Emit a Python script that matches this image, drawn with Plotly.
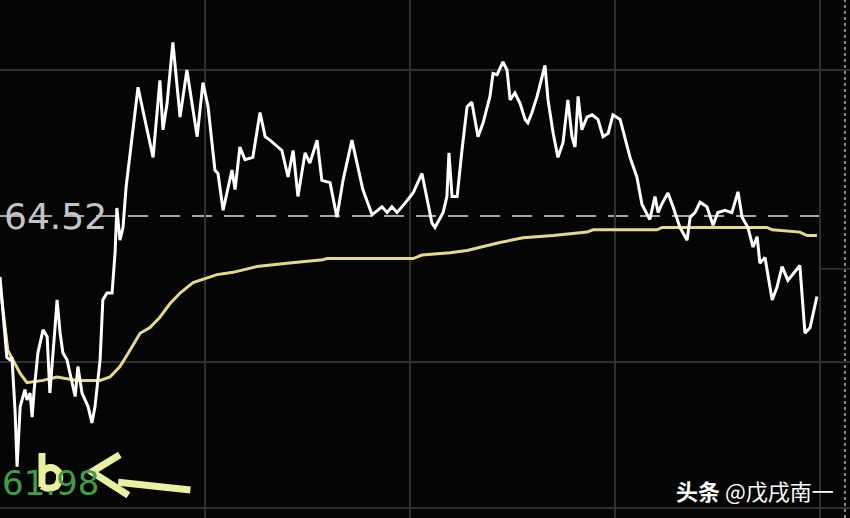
import plotly.graph_objects as go

# Intraday minutes and prices
price_minutes = [0, 2.0, 2.9, 3.5, 4.4, 5.0, 5.9, 7.3, 7.9, 8.8, 9.4, 10.0, 11.1, 12.6, 13.8, 14.6,
                 16.1, 16.7, 17.6, 18.4, 19.6, 21.1, 22.0, 22.8, 24.0, 24.9, 25.8, 26.9, 27.8, 29.3,
                 30.1, 31.3, 32.8, 33.7, 34.2, 35.1, 36.0, 36.9, 38.6, 40.4, 42.4, 44.8, 46.8, 47.7,
                 48.9, 50.6, 52.7, 54.7, 57.7, 59.4, 60.9, 62.9, 63.8, 65.3, 67.9, 68.8, 70.2, 71.7,
                 74.0, 76.1, 77.6, 79.0, 82.5, 84.3, 85.8, 87.2, 89.3, 90.7, 92.8, 94.2, 96.6, 98.6,
                 100.4, 103.0, 106.2, 108.9, 111.8, 113.3, 114.7, 116.2, 118.5, 120.9, 123.5, 125.0,
                 126.4, 127.3, 129.7, 130.8, 131.4, 132.3, 133.8, 135.2, 136.7, 138.1, 139.9, 141.4,
                 143.4, 144.3, 145.5, 147.2, 148.4, 149.3, 150.7, 152.2, 153.7, 154.5, 155.7, 157.2,
                 159.5, 160.4, 161.9, 163.3, 164.8, 166.2, 167.4, 168.3, 169.2, 170.3, 171.8, 173.3,
                 175.0, 176.5, 178.0, 179.4, 181.5, 184.4, 186.4, 187.9, 190.2, 191.7, 192.6, 193.8,
                 195.5, 197.0, 199.0, 201.1, 202.0, 203.4, 204.9, 206.9, 208.7, 210.1, 212.2, 214.2,
                 216.0, 217.2, 218.9, 220.4, 221.6, 222.4, 223.9, 226.0, 227.4, 228.9, 230.6, 234.1,
                 235.6, 237.1, 239.1]
price_values = [63.99, 63.29, 63.27, 63.29, 62.83, 62.34, 62.86, 63.01, 62.92, 62.98, 62.77, 63.01,
                63.33, 63.53, 63.47, 62.98, 63.55, 63.79, 63.50, 63.33, 63.27, 63.07, 62.95, 63.21,
                62.98, 62.92, 62.86, 62.72, 62.86, 63.27, 63.79, 63.85, 63.85, 64.21, 64.59, 64.31,
                64.42, 64.77, 65.18, 65.64, 65.36, 65.03, 65.70, 65.27, 65.50, 66.03, 65.38, 65.79,
                65.21, 65.68, 65.47, 64.92, 64.89, 64.57, 64.92, 64.75, 65.12, 65.01, 65.03, 65.42,
                65.21, 65.18, 65.09, 64.86, 65.09, 64.69, 65.07, 64.98, 65.18, 64.83, 64.81, 64.51,
                64.83, 65.18, 64.75, 64.53, 64.60, 64.55, 64.60, 64.55, 64.63, 64.72, 64.89, 64.66,
                64.46, 64.42, 64.55, 64.69, 65.07, 64.69, 64.69, 65.09, 65.47, 65.51, 65.21, 65.33,
                65.56, 65.76, 65.75, 65.86, 65.79, 65.53, 65.59, 65.50, 65.36, 65.33, 65.42, 65.56,
                65.83, 65.53, 65.24, 65.03, 65.16, 65.53, 65.21, 65.12, 65.56, 65.27, 65.38, 65.40,
                65.36, 65.21, 65.24, 65.40, 65.36, 65.03, 64.86, 64.62, 64.49, 64.69, 64.55, 64.63,
                64.72, 64.60, 64.42, 64.31, 64.51, 64.55, 64.64, 64.60, 64.44, 64.55, 64.57, 64.55,
                64.73, 64.51, 64.42, 64.25, 64.34, 64.11, 64.16, 63.79, 63.90, 64.08, 63.96, 64.09,
                63.50, 63.55, 63.82]

avg_minutes = [0, 2.3, 5.9, 7.9, 12.6, 16.7, 22.5, 29.3, 32.2, 35.1, 38.0, 41.0, 43.9, 46.8, 49.8,
               52.7, 56.5, 58.5, 63.5, 68.2, 75.2, 84.0, 94.5, 95.7, 120.9, 123.5, 131.7, 136.7,
               146.3, 153.1, 161.9, 171.8, 173.6, 192.3, 193.8, 224.5, 226.0, 234.1, 236.2, 239.1]
avg_values = [63.92, 63.35, 63.15, 63.07, 63.09, 63.12, 63.09, 63.09, 63.12, 63.21, 63.35, 63.50,
              63.55, 63.64, 63.76, 63.85, 63.94, 63.96, 64.01, 64.03, 64.08, 64.11, 64.14, 64.15,
              64.15, 64.18, 64.20, 64.22, 64.29, 64.33, 64.35, 64.38, 64.40, 64.40, 64.42, 64.42,
              64.40, 64.38, 64.35, 64.35]

prev_close = 64.52
low_label = "61.98"
grid_prices = [61.98, 63.25, 65.79]
grid_minutes = [60, 120, 180, 240]

fig = go.Figure()
fig.add_trace(go.Scatter(x=avg_minutes, y=avg_values, mode="lines",
                         line=dict(color="#e6d98e", width=3), hoverinfo="skip"))
fig.add_trace(go.Scatter(x=price_minutes, y=price_values, mode="lines",
                         line=dict(color="#ffffff", width=3), hoverinfo="skip"))

# dashed previous-close line
fig.add_shape(type="line", x0=0, x1=240, y0=prev_close, y1=prev_close,
              line=dict(color="#a8a8a8", width=2, dash="20px,12px"), layer="below")
# right-hand tick strip
fig.add_shape(type="line", x0=247.3, x1=247.3, y0=0, y1=1, yref="paper",
              line=dict(color="#8a8a8a", width=2, dash="dot"), layer="below")
fig.add_shape(type="line", x0=240, x1=248.8, y0=64.06, y1=64.06,
              line=dict(color="#3a3a3a", width=1.5), layer="below")

fig.add_annotation(x=0, y=prev_close, xref="paper", text="64.52", showarrow=False,
                   xanchor="left", yanchor="middle", xshift=2,
                   font=dict(family="DejaVu Sans", size=36, color="#c4c4c4"))
fig.add_annotation(x=0, y=62.2, xref="paper", text=low_label, showarrow=False,
                   xanchor="left", yanchor="middle", xshift=0,
                   font=dict(family="DejaVu Sans", size=34, color="#3f9f45"))

# hand drawn "b" and arrow
hand = dict(color="#e9f0a0", width=7)
fig.add_shape(type="path", xref="paper", yref="paper",
              path="M 0.0494 0.1255 L 0.0494 0.0598", line=hand)
fig.add_shape(type="path", xref="paper", yref="paper",
              path="M 0.0494 0.0888 Q 0.0600 0.1060 0.0690 0.0888 Q 0.0725 0.0734 0.0660 0.0610 "
                   "Q 0.0565 0.0530 0.0494 0.0618", line=hand)
fig.add_shape(type="path", xref="paper", yref="paper",
              path="M 0.141 0.122 L 0.108 0.089 L 0.151 0.044", line=hand)
fig.add_shape(type="line", xref="paper", yref="paper", x0=0.139, y0=0.069, x1=0.224, y1=0.054,
              line=hand)

fig.add_annotation(x=0.983, y=0.054, xref="paper", yref="paper",
                   text="<b>头条</b> @戊戌南一", showarrow=False,
                   xanchor="right", yanchor="middle",
                   font=dict(family="Noto Sans CJK SC", size=22, color="#ffffff"))

fig.update_layout(
    width=850, height=518,
    margin=dict(l=0, r=0, t=0, b=0),
    paper_bgcolor="#050505", plot_bgcolor="#050505",
    showlegend=False,
    xaxis=dict(range=[0, 248.78], tickvals=grid_minutes, showticklabels=False,
               showgrid=True, gridcolor="#303030", gridwidth=1.5, zeroline=False,
               showline=False, fixedrange=True),
    yaxis=dict(range=[61.893, 66.399], tickvals=grid_prices, showticklabels=False,
               showgrid=True, gridcolor="#303030", gridwidth=1.5, zeroline=False,
               showline=False, fixedrange=True),
)

fig.write_html("out.html", config={"displayModeBar": False},
               post_script="document.body.style.margin='0';document.body.style.background='#050505';")
